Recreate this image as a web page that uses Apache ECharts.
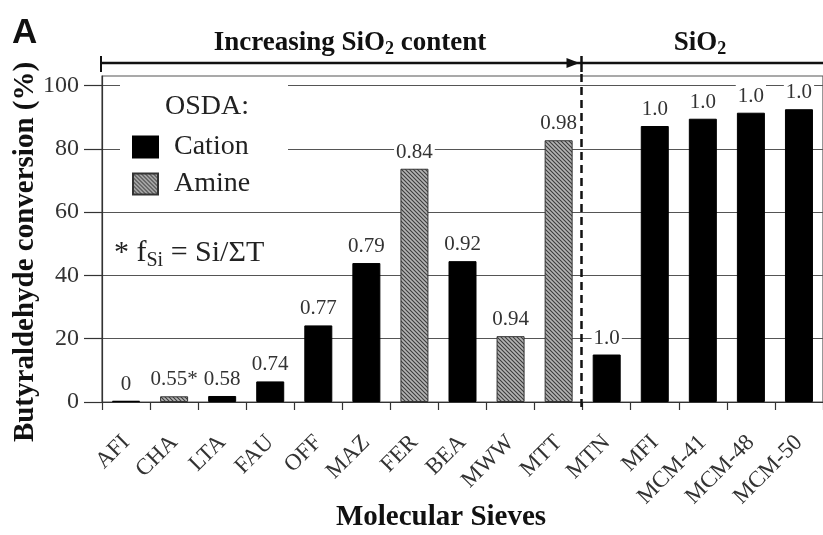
<!DOCTYPE html>
<html>
<head>
<meta charset="utf-8">
<script src="https://cdn.jsdelivr.net/npm/echarts@6/dist/echarts.min.js"></script>
<style>
html,body{margin:0;padding:0;background:#fff;}
#chart{width:823px;height:535px;}
</style>
</head>
<body>
<div id="chart"></div>
<script>
// ---- data ----
const categories = ['AFI','CHA','LTA','FAU','OFF','MAZ','FER','BEA','MWW','MTT','MTN','MFI','MCM-41','MCM-48','MCM-50'];
const cationValues = [0.4, null, 1.9, 6.5, 24.2, 43.9, null, 44.5, null, null, 15.0, 87.2, 89.5, 91.4, 92.5];
const amineValues  = [null, 1.8, null, null, null, null, 73.7, null, 20.8, 82.7, null, null, null, null, null];
const fSiLabels = ['0','0.55*','0.58','0.74','0.77','0.79','0.84','0.92','0.94','0.98','1.0','1.0','1.0','1.0','1.0'];
const yTickValues = [0, 20, 40, 60, 80, 100];

const SERIF = 'Liberation Serif, Times New Roman, serif';

function hatchCanvas() {
  const c = document.createElement('canvas');
  c.width = 4; c.height = 4;
  const g = c.getContext('2d');
  g.fillStyle = '#b4b4b4';
  g.fillRect(0, 0, 4, 4);
  g.strokeStyle = '#3c3c3c';
  g.lineWidth = 1.1;
  g.beginPath();
  g.moveTo(-1, -1); g.lineTo(5, 5);
  g.moveTo(-1, 3); g.lineTo(1, 5);
  g.moveTo(3, -1); g.lineTo(5, 1);
  g.stroke();
  return c;
}
const hatch = { image: hatchCanvas(), repeat: 'repeat' };

const chart = echarts.init(document.getElementById('chart'), null, { renderer: 'canvas' });

const labelCfg = {
  show: true,
  position: 'top',
  distance: 5,
  formatter: p => fSiLabels[p.dataIndex],
  fontFamily: SERIF,
  fontSize: 21,
  color: '#333',
  backgroundColor: '#fff',
  padding: [1, 2]
};

chart.setOption({
  animation: false,
  backgroundColor: '#fff',
  grid: { left: 102, right: -7, top: 76, bottom: 133, containLabel: false, show: true, borderColor: '#555', borderWidth: 1.2, backgroundColor: 'transparent' },
  legend: {
    orient: 'vertical',
    left: 127, top: 128,
    itemWidth: 25, itemHeight: 21,
    itemGap: 9,
    icon: 'rect',
    selectedMode: false,
    data: ['Cation', 'Amine'],
    textStyle: { fontFamily: SERIF, fontSize: 28, color: '#222', padding: [0, 0, 0, 11], lineHeight: 28 }
  },
  xAxis: {
    type: 'category',
    data: categories,
    axisLine: { lineStyle: { color: '#333', width: 1.2 } },
    axisTick: { show: true, length: 8, lineStyle: { color: '#333', width: 1.2 } },
    axisLabel: { interval: 0, rotate: 45, margin: 37, fontFamily: SERIF, fontSize: 23, color: '#333' },
    splitLine: { show: false }
  },
  yAxis: {
    type: 'value',
    min: 0, max: 103, interval: 20,
    axisLine: { show: true, lineStyle: { color: '#333', width: 1.2 } },
    axisTick: { show: true, length: 18, customValues: yTickValues, lineStyle: { color: '#333', width: 1.2 } },
    axisLabel: { margin: 23, customValues: yTickValues, formatter: v => (v % 20 === 0 ? String(v) : ''), fontFamily: SERIF, fontSize: 24, color: '#333' },
    splitLine: { show: true, lineStyle: { color: '#555', width: 1.2 } }
  },
  series: [
    {
      name: 'Cation', type: 'bar', data: cationValues, barWidth: 28, barGap: '-100%',
      itemStyle: { color: '#000', borderColor: '#000', borderWidth: 1 },
      label: labelCfg, z: 3
    },
    {
      name: 'Amine', type: 'bar', data: amineValues, barWidth: 28, barGap: '-100%',
      itemStyle: { color: hatch, borderColor: '#333', borderWidth: 1 },
      label: labelCfg, z: 3
    }
  ]
});

// separator position between MTT and MTN from the axis scale
const xa = chart.convertToPixel({ xAxisIndex: 0 }, 'MTT');
const xb = chart.convertToPixel({ xAxisIndex: 0 }, 'MTN');
const sepX = Math.round((xa + xb) / 2) - 1.5;
const y0 = chart.convertToPixel({ yAxisIndex: 0 }, 0);
const leftX = chart.convertToPixel({ xAxisIndex: 0 }, 'AFI') - (xb - xa) / 2 - 1;
const arrowY = 63;

chart.setOption({
  graphic: [
    // white box behind legend
    { type: 'rect', z: 1, shape: { x: 120, y: 80, width: 168, height: 118 }, style: { fill: '#fff' } },
    { type: 'text', z: 10, left: 12, top: 16, style: { text: 'A', font: 'bold 35px Liberation Sans, Arial, sans-serif', fill: '#111' } },
    { type: 'text', z: 10, x: 350, y: 43, style: {
        text: '{b|Increasing SiO}{s|2}{b| content}', align: 'center', verticalAlign: 'middle',
        rich: { b: { font: 'bold 27px ' + SERIF, fill: '#111' }, s: { font: 'bold 18px ' + SERIF, fill: '#111', padding: [12, 0, 0, 0] } }
    } },
    { type: 'text', z: 10, x: 700, y: 43, style: {
        text: '{b|SiO}{s|2}', align: 'center', verticalAlign: 'middle',
        rich: { b: { font: 'bold 27px ' + SERIF, fill: '#111' }, s: { font: 'bold 18px ' + SERIF, fill: '#111', padding: [12, 0, 0, 0] } }
    } },
    // arrow line
    { type: 'line', z: 10, shape: { x1: leftX, y1: arrowY, x2: 830, y2: arrowY }, style: { stroke: '#111', lineWidth: 2.5 } },
    { type: 'line', z: 10, shape: { x1: leftX, y1: 56, x2: leftX, y2: 72 }, style: { stroke: '#111', lineWidth: 2 } },
    { type: 'polygon', z: 10, shape: { points: [[sepX - 15, arrowY - 5], [sepX - 2, arrowY], [sepX - 15, arrowY + 5]] }, style: { fill: '#111' } },
    { type: 'line', z: 10, shape: { x1: sepX, y1: 56, x2: sepX, y2: 72 }, style: { stroke: '#111', lineWidth: 2.5 } },
    // dashed separator
    { type: 'line', z: 10, shape: { x1: sepX, y1: 74, x2: sepX, y2: y0 + 9 }, style: { stroke: '#111', lineWidth: 2.5, lineDash: [8, 5] } },
    // legend header and note
    { type: 'text', z: 10, x: 165, y: 107, style: { text: 'OSDA:', font: '28px ' + SERIF, fill: '#222', verticalAlign: 'middle' } },
    { type: 'text', z: 10, x: 114, y: 253, style: {
        text: '{n|* f}{s|Si}{n| = Si/ΣT}', verticalAlign: 'middle',
        rich: { n: { font: '30px ' + SERIF, fill: '#222' }, s: { font: '20px ' + SERIF, fill: '#222', padding: [16, 0, 0, 0] } }
    } },
    // axis titles
    { type: 'text', z: 10, x: 441, y: 518, style: { text: 'Molecular Sieves', font: 'bold 29px ' + SERIF, fill: '#111', align: 'center', verticalAlign: 'middle' } },
    { type: 'text', z: 10, x: 26, y: 252, rotation: Math.PI / 2, style: { text: 'Butyraldehyde conversion (%)', font: 'bold 29px ' + SERIF, fill: '#111', align: 'center', verticalAlign: 'middle' } }
  ]
});
</script>
</body>
</html>
